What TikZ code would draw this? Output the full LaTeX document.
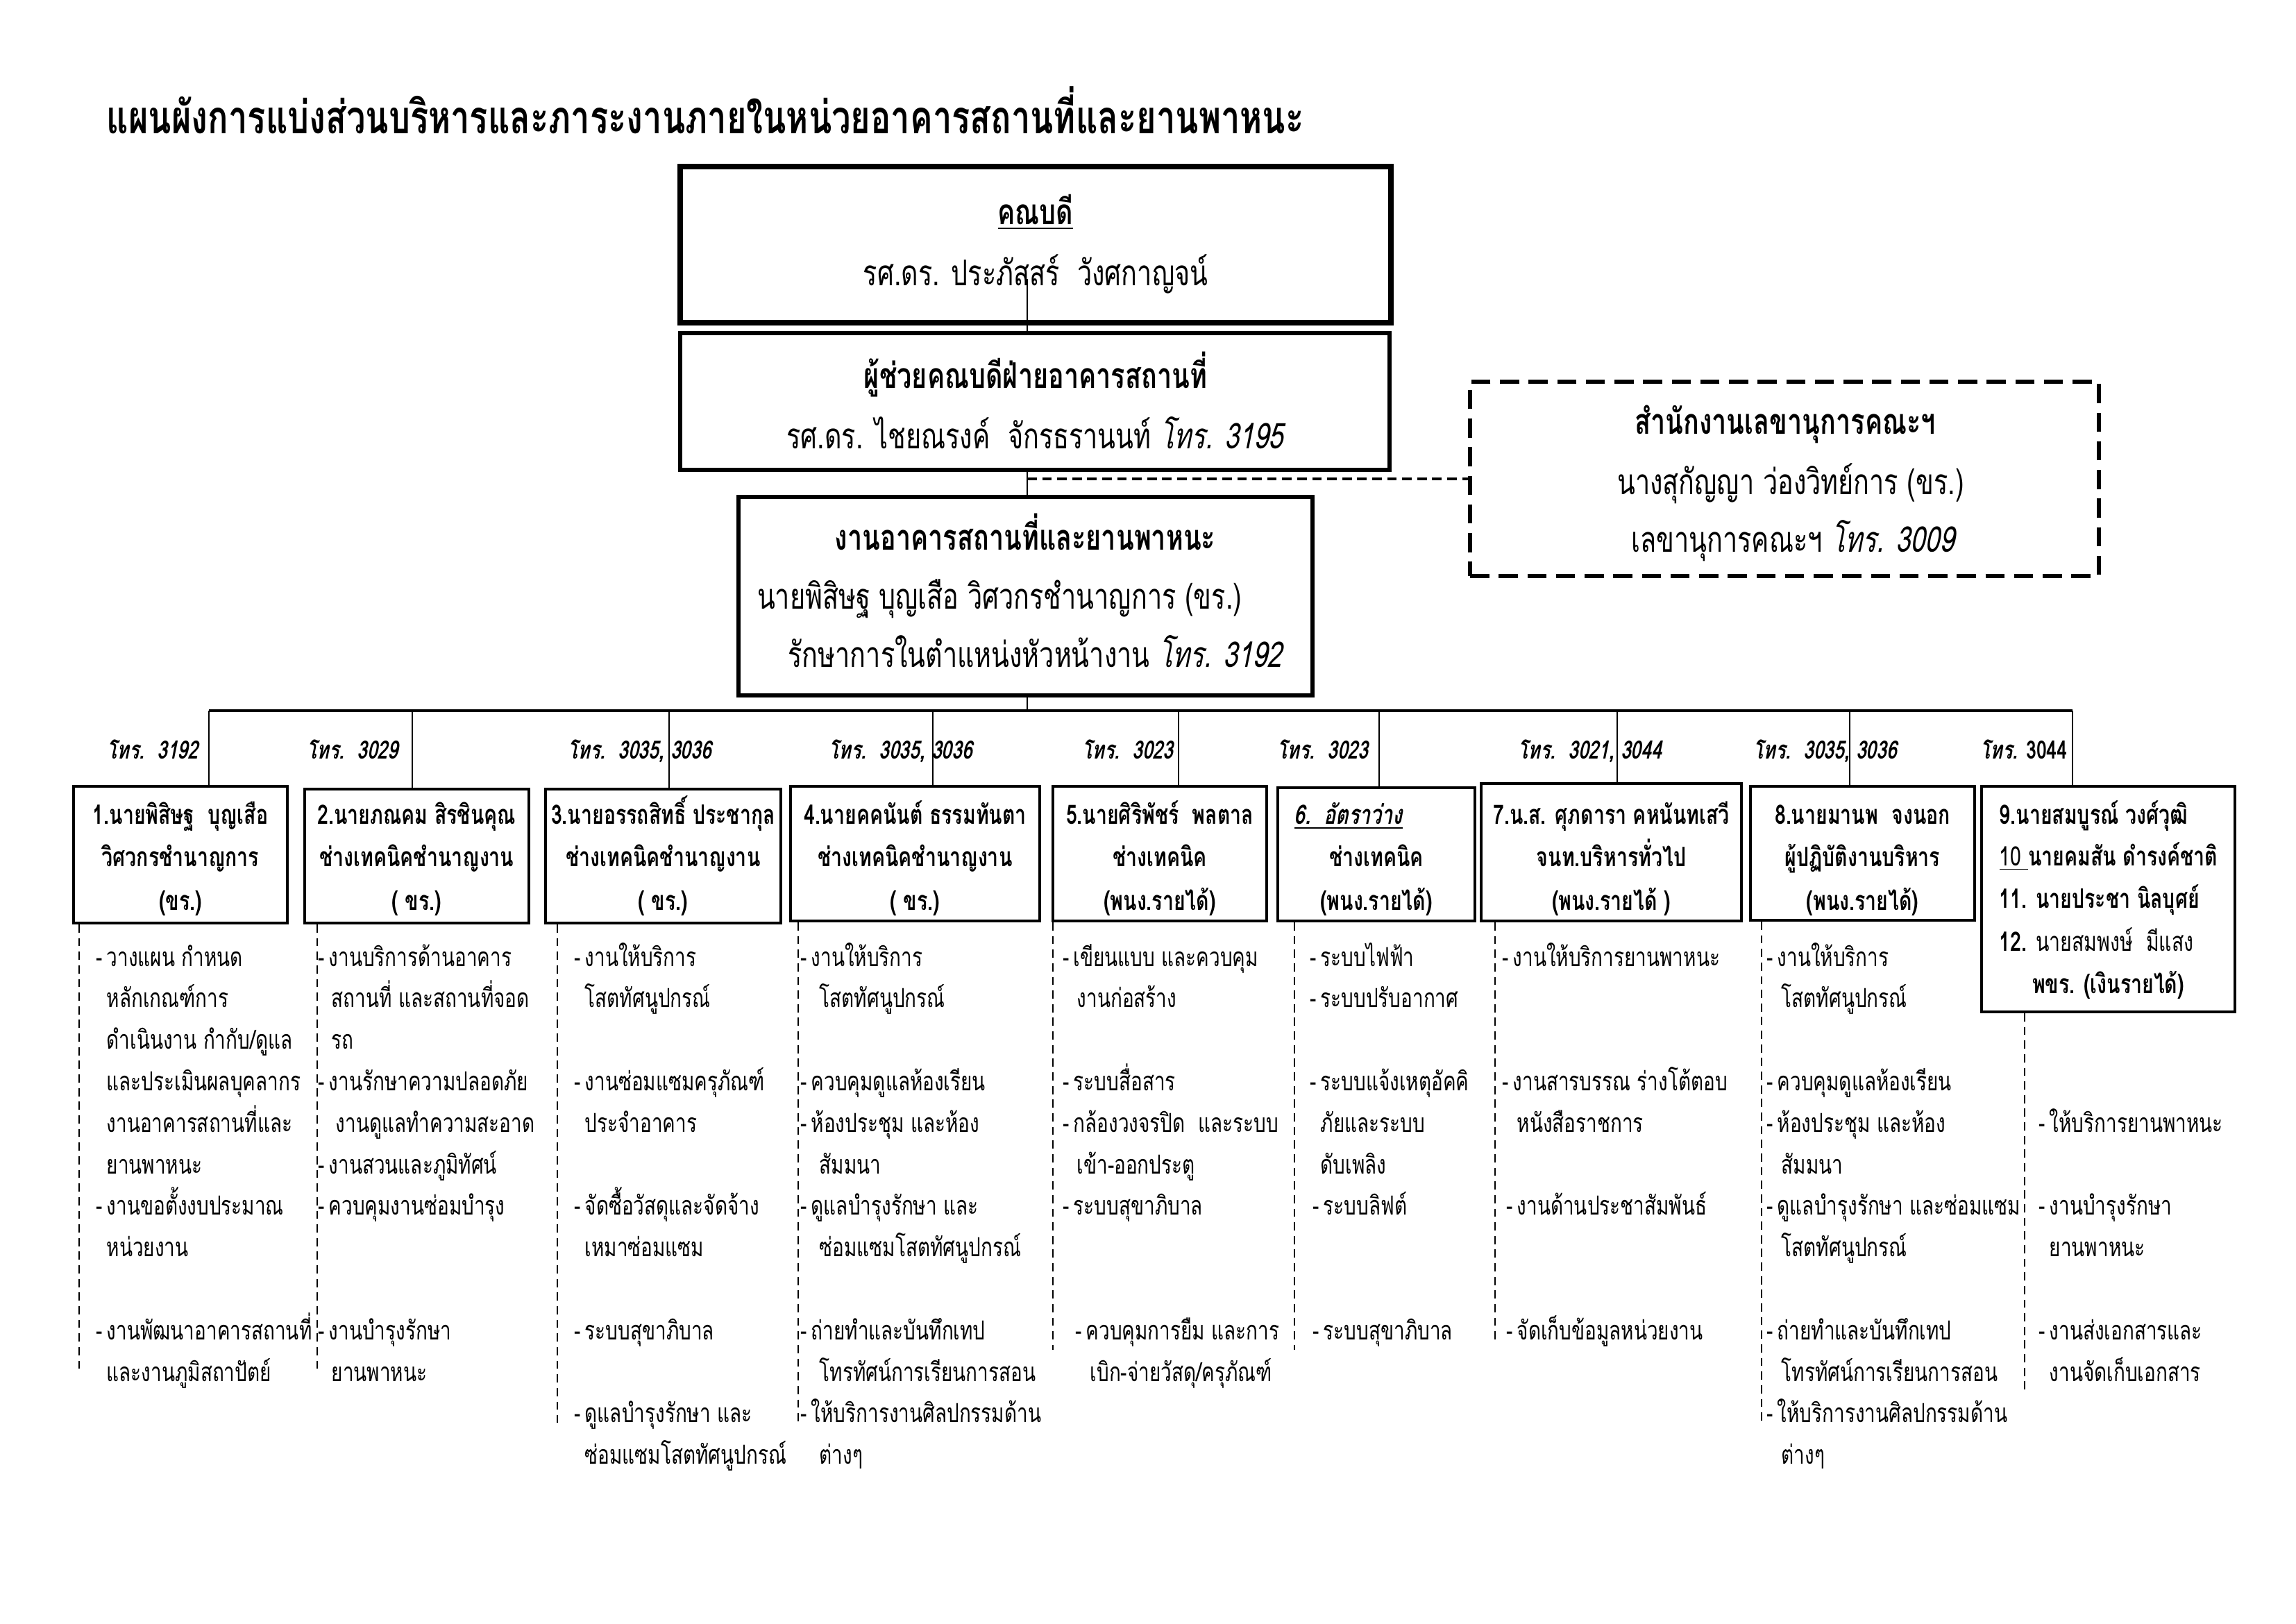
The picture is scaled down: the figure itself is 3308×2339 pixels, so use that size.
\documentclass[tikz,border=0pt]{standalone}
\usepackage{fontspec}
\setmainfont[Script=Thai,FakeStretch=0.74]{Loma}
\newfontfamily\slfont[Script=Thai,FakeStretch=0.74,FakeSlant=0.2]{Loma}
\usetikzlibrary{fit}
\newcommand\dd{\llap{-\hspace{1.6pt}}}
\newcommand\li[4]{\node[lst] (#1) at (#2,{1392+59.8*#3}) {#4};}
\begin{document}
\begin{tikzpicture}[x=0.25453pt,y=-0.25453pt,
  tbox/.style={draw, line width=#1, fill=white, inner sep=0pt},
  tbox/.default=1pt,
  conn/.style={line width=0.7pt},
  ldash/.style={line width=0.6pt, dash pattern=on 3pt off 2pt},
  lst/.style={anchor=base west, inner sep=0pt, font=\fontsize{9.6pt}{11pt}\selectfont},
  hd/.style={anchor=base, inner sep=0pt, font=\fontsize{9.8pt}{11pt}\selectfont\bfseries},
  hdl/.style={anchor=base west, inner sep=0pt, font=\fontsize{9.8pt}{11pt}\selectfont\bfseries},
  tel/.style={anchor=base, inner sep=0pt, font=\fontsize{9.2pt}{11pt}\selectfont\bfseries},
  big/.style={anchor=base, inner sep=0pt, font=\fontsize{13pt}{15pt}\selectfont},
  bigb/.style={anchor=base, inner sep=0pt, font=\fontsize{13pt}{15pt}\selectfont\bfseries},
  ttl/.style={anchor=base west, inner sep=0pt, font=\fontsize{16.8pt}{18pt}\selectfont\bfseries}]
\useasboundingbox (0,0) rectangle (3308,2339);

% title
\node[ttl] (title) at (153,192) {แผนผังการแบ่งส่วนบริหารและภาระงานภายในหน่วยอาคารสถานที่และยานพาหนะ};

% top boxes
\node[tbox=1.9pt, fit={(980,240) (2004,465)}] (dean) {};
\coordinate (m0) at (1480,402);
\coordinate (bus) at (1480,1024);
\draw[conn] (m0) -- (bus);
\node[tbox=1.6pt, fit={(980,480) (2002,677)}] (asst) {};
\node[tbox=1.3pt, fit={(1064,716) (1891,1002)}] (unit) {};
\node[draw, line width=1.3pt, dash pattern=on 7pt off 3.5pt, fill=white, inner sep=0pt, fit={(2118,550) (3024,830)}] (sec) {};
\draw[line width=1pt, dash pattern=on 3.5pt off 2pt] (sec.west -| m0) -- (sec.west);

\node[bigb] (deanA) at (1492,323) {\underline{คณบดี}};
\node[big] (deanB) at (1492,411) {รศ.ดร. ประภัสสร์~~วังศกาญจน์};
\node[bigb] (asstA) at (1492,559) {ผู้ช่วยคณบดีฝ่ายอาคารสถานที่};
\node[big] (asstB) at (1491,646) {รศ.ดร. ไชยณรงค์~~จักรธรานนท์ {\slfont โทร. 3195}};
\node[bigb] (unitA) at (1477,792) {งานอาคารสถานที่และยานพาหนะ};
\node[big] (unitB) at (1440,877) {นายพิสิษฐ บุญเสือ วิศวกรชำนาญการ (ขร.)};
\node[big] (unitC) at (1491,961) {รักษาการในตำแหน่งหัวหน้างาน {\slfont โทร. 3192}};
\node[bigb] (secA) at (2572,625) {สำนักงานเลขานุการคณะฯ};
\node[big] (secB) at (2580,712) {นางสุกัญญา ว่องวิทย์การ (ขร.)};
\node[big] (secC) at (2583,795) {เลขานุการคณะฯ {\slfont โทร. 3009}};

% bus
\coordinate (busL) at (301,1024);
\coordinate (busR) at (2986,1024);
\draw[line width=1.1pt] (busL) -- (busR);

% lower boxes
\node[tbox, fit={(106,1133) (414,1330)}] (b1) {};
\node[tbox, fit={(439,1137) (762,1330)}] (b2) {};
\node[tbox, fit={(786,1137) (1125,1330)}] (b3) {};
\node[tbox, fit={(1139,1133) (1498,1327)}] (b4) {};
\node[tbox, fit={(1517,1133) (1825,1327)}] (b5) {};
\node[tbox, fit={(1841,1135) (2125,1327)}] (b6) {};
\node[tbox, fit={(2134,1129) (2509,1327)}] (b7) {};
\node[tbox, fit={(2522,1133) (2845,1326)}] (b8) {};
\node[tbox, fit={(2855,1133) (3220,1458)}] (b9) {};

% connectors bus -> boxes
\foreach \n/\x in {1/301,2/594,3/964,4/1344,5/1698,6/1987,7/2330,8/2665,9/2986}{
  \coordinate (v\n) at (\x,1024);
  \draw[conn] (v\n) -- (v\n |- b\n.north);
}

% phone labels
\node[tel] (t1) at (220,1093) {\slfont โทร.~~3192};
\node[tel] (t2) at (508,1093) {\slfont โทร.~~3029};
\node[tel] (t3) at (922,1093) {\slfont โทร.~~3035, 3036};
\node[tel] (t4) at (1298,1093) {\slfont โทร.~~3035, 3036};
\node[tel] (t5) at (1625,1093) {\slfont โทร.~~3023};
\node[tel] (t6) at (1906,1093) {\slfont โทร.~~3023};
\node[tel] (t7) at (2291,1093) {\slfont โทร.~~3021, 3044};
\node[tel] (t8) at (2630,1093) {\slfont โทร.~~3035, 3036};
\node[tel] (t9) at (2916,1093) {{\slfont โทร.} 3044};

% box headings
\node[hd] (h1a) at (b1.center |- 0,1187) {1.นายพิสิษฐ~~บุญเสือ};
\node[hd] (h1b) at (b1.center |- 0,1248) {วิศวกรชำนาญการ};
\node[hd] (h1c) at (b1.center |- 0,1311) {(ขร.)};
\node[hd] (h2a) at (b2.center |- 0,1187) {2.นายภณคม สิรชินคุณ};
\node[hd] (h2b) at (b2.center |- 0,1248) {ช่างเทคนิคชำนาญงาน};
\node[hd] (h2c) at (b2.center |- 0,1311) {( ขร.)};
\node[hd] (h3a) at (b3.center |- 0,1187) {3.นายอรรถสิทธิ์ ประชากุล};
\node[hd] (h3b) at (b3.center |- 0,1248) {ช่างเทคนิคชำนาญงาน};
\node[hd] (h3c) at (b3.center |- 0,1311) {( ขร.)};
\node[hd] (h4a) at (b4.center |- 0,1187) {4.นายคคนันต์ ธรรมทันตา};
\node[hd] (h4b) at (b4.center |- 0,1248) {ช่างเทคนิคชำนาญงาน};
\node[hd] (h4c) at (b4.center |- 0,1311) {( ขร.)};
\node[hd] (h5a) at (b5.center |- 0,1187) {5.นายศิริพัชร์~~พลตาล};
\node[hd] (h5b) at (b5.center |- 0,1248) {ช่างเทคนิค};
\node[hd] (h5c) at (b5.center |- 0,1311) {(พนง.รายได้)};
\node[hdl] (h6a) at (1864,1187) {\slfont\underline{6.~~อัตราว่าง}};
\node[hd] (h6b) at (b6.center |- 0,1248) {ช่างเทคนิค};
\node[hd] (h6c) at (b6.center |- 0,1311) {(พนง.รายได้)};
\node[hd] (h7a) at (b7.center |- 0,1187) {7.น.ส. ศุภดารา คหนันทเสวี};
\node[hd] (h7b) at (b7.center |- 0,1248) {จนท.บริหารทั่วไป};
\node[hd] (h7c) at (b7.center |- 0,1311) {(พนง.รายได้ )};
\node[hd] (h8a) at (b8.center |- 0,1187) {8.นายมานพ~~จงนอก};
\node[hd] (h8b) at (b8.center |- 0,1248) {ผู้ปฏิบัติงานบริหาร};
\node[hd] (h8c) at (b8.center |- 0,1311) {(พนง.รายได้)};
\node[hdl] (h9a) at (2880,1187) {9.นายสมบูรณ์ วงศ์วุฒิ};
\node[hdl] (h9b) at (2880,1247) {\underline{\mdseries 10 }นายคมสัน ดำรงค์ชาติ};
\node[hdl] (h9c) at (2880,1308) {11. นายประชา นิลบุศย์};
\node[hdl] (h9d) at (2880,1370) {12. {\mdseries นายสมพงษ์~~มีแสง}};
\node[hd] (h9e) at (b9.center |- 0,1431) {พขร. (เงินรายได้)};

% dashed task lines
\foreach \n/\x/\e in {1/114/1975,2/457/1973,3/803/2050,4/1150/2049,5/1517/1945,6/1865/1945,7/2154/1930,8/2538/2052,9/2917/2003}{
  \coordinate (e\n) at (\x,\e);
  \draw[ldash] (e\n |- b\n.south) -- (e\n);
}

% column 1
\li{c1r0}{153}{0}{\dd วางแผน กำหนด}
\li{c1r1}{153}{1}{หลักเกณฑ์การ}
\li{c1r2}{153}{2}{ดำเนินงาน กำกับ/ดูแล}
\li{c1r3}{153}{3}{และประเมินผลบุคลากร}
\li{c1r4}{153}{4}{งานอาคารสถานที่และ}
\li{c1r5}{153}{5}{ยานพาหนะ}
\li{c1r6}{153}{6}{\dd งานขอตั้งงบประมาณ}
\li{c1r7}{153}{7}{หน่วยงาน}
\li{c1r9}{153}{9}{\dd งานพัฒนาอาคารสถานที่}
\li{c1r10}{153}{10}{และงานภูมิสถาปัตย์}
% column 2
\li{c2r0}{473}{0}{\dd งานบริการด้านอาคาร}
\li{c2r1}{477}{1}{สถานที่ และสถานที่จอด}
\li{c2r2}{477}{2}{รถ}
\li{c2r3}{473}{3}{\dd งานรักษาความปลอดภัย}
\li{c2r4}{483}{4}{งานดูแลทำความสะอาด}
\li{c2r5}{473}{5}{\dd งานสวนและภูมิทัศน์}
\li{c2r6}{473}{6}{\dd ควบคุมงานซ่อมบำรุง}
\li{c2r9}{473}{9}{\dd งานบำรุงรักษา}
\li{c2r10}{477}{10}{ยานพาหนะ}
% column 3
\li{c3r0}{842}{0}{\dd งานให้บริการ}
\li{c3r1}{842}{1}{โสตทัศนูปกรณ์}
\li{c3r3}{842}{3}{\dd งานซ่อมแซมครุภัณฑ์}
\li{c3r4}{842}{4}{ประจำอาคาร}
\li{c3r6}{842}{6}{\dd จัดซื้อวัสดุและจัดจ้าง}
\li{c3r7}{842}{7}{เหมาซ่อมแซม}
\li{c3r9}{842}{9}{\dd ระบบสุขาภิบาล}
\li{c3r11}{842}{11}{\dd ดูแลบำรุงรักษา และ}
\li{c3r12}{842}{12}{ซ่อมแซมโสตทัศนูปกรณ์}
% column 4
\li{c4r0}{1168}{0}{\dd งานให้บริการ}
\li{c4r1}{1180}{1}{โสตทัศนูปกรณ์}
\li{c4r3}{1168}{3}{\dd ควบคุมดูแลห้องเรียน}
\li{c4r4}{1168}{4}{\dd ห้องประชุม และห้อง}
\li{c4r5}{1180}{5}{สัมมนา}
\li{c4r6}{1168}{6}{\dd ดูแลบำรุงรักษา และ}
\li{c4r7}{1180}{7}{ซ่อมแซมโสตทัศนูปกรณ์}
\li{c4r9}{1168}{9}{\dd ถ่ายทำและบันทึกเทป}
\li{c4r10}{1180}{10}{โทรทัศน์การเรียนการสอน}
\li{c4r11}{1168}{11}{\dd ให้บริการงานศิลปกรรมด้าน}
\li{c4r12}{1180}{12}{ต่างๆ}
% column 5
\li{c5r0}{1546}{0}{\dd เขียนแบบ และควบคุม}
\li{c5r1}{1551}{1}{งานก่อสร้าง}
\li{c5r3}{1546}{3}{\dd ระบบสื่อสาร}
\li{c5r4}{1546}{4}{\dd กล้องวงจรปิด~~และระบบ}
\li{c5r5}{1551}{5}{เข้า-ออกประตู}
\li{c5r6}{1546}{6}{\dd ระบบสุขาภิบาล}
\li{c5r9}{1564}{9}{\dd ควบคุมการยืม และการ}
\li{c5r10}{1570}{10}{เบิก-จ่ายวัสดุ/ครุภัณฑ์}
% column 6
\li{c6r0}{1902}{0}{\dd ระบบไฟฟ้า}
\li{c6r1}{1902}{1}{\dd ระบบปรับอากาศ}
\li{c6r3}{1902}{3}{\dd ระบบแจ้งเหตุอัคคิ}
\li{c6r4}{1902}{4}{ภัยและระบบ}
\li{c6r5}{1902}{5}{ดับเพลิง}
\li{c6r6}{1906}{6}{\dd ระบบลิฟต์}
\li{c6r9}{1906}{9}{\dd ระบบสุขาภิบาล}
% column 7
\li{c7r0}{2179}{0}{\dd งานให้บริการยานพาหนะ}
\li{c7r3}{2179}{3}{\dd งานสารบรรณ ร่างโต้ตอบ}
\li{c7r4}{2185}{4}{หนังสือราชการ}
\li{c7r6}{2185}{6}{\dd งานด้านประชาสัมพันธ์}
\li{c7r9}{2185}{9}{\dd จัดเก็บข้อมูลหน่วยงาน}
% column 8
\li{c8r0}{2560}{0}{\dd งานให้บริการ}
\li{c8r1}{2566}{1}{โสตทัศนูปกรณ์}
\li{c8r3}{2560}{3}{\dd ควบคุมดูแลห้องเรียน}
\li{c8r4}{2560}{4}{\dd ห้องประชุม และห้อง}
\li{c8r5}{2566}{5}{สัมมนา}
\li{c8r6}{2560}{6}{\dd ดูแลบำรุงรักษา และซ่อมแซม}
\li{c8r7}{2566}{7}{โสตทัศนูปกรณ์}
\li{c8r9}{2560}{9}{\dd ถ่ายทำและบันทึกเทป}
\li{c8r10}{2566}{10}{โทรทัศน์การเรียนการสอน}
\li{c8r11}{2560}{11}{\dd ให้บริการงานศิลปกรรมด้าน}
\li{c8r12}{2566}{12}{ต่างๆ}
% column 9
\li{c9r4}{2952}{4}{\dd ให้บริการยานพาหนะ}
\li{c9r6}{2952}{6}{\dd งานบำรุงรักษา}
\li{c9r7}{2952}{7}{ยานพาหนะ}
\li{c9r9}{2952}{9}{\dd งานส่งเอกสารและ}
\li{c9r10}{2952}{10}{งานจัดเก็บเอกสาร}
\end{tikzpicture}
\end{document}
